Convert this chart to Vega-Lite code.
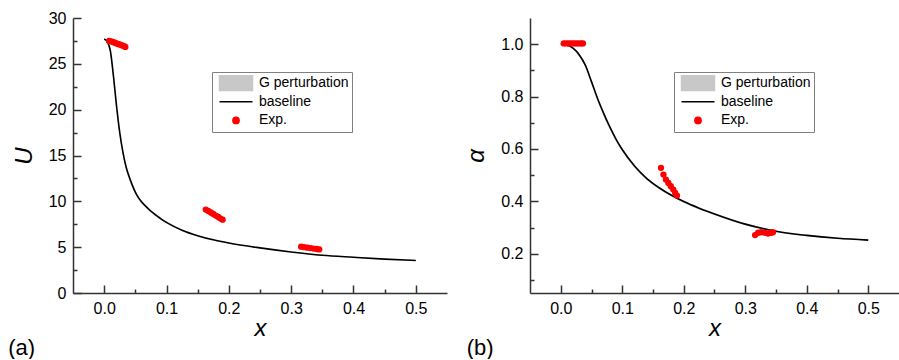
{
  "$schema": "https://vega.github.io/schema/vega-lite/v6.json",
  "background": "white",
  "padding": {"left": 8, "top": 10, "right": 0, "bottom": 0},
  "datasets": {
    "a_curve": [
      {"x": 0, "U": 27.7, "lo": 27.7},
      {"x": 0.005, "U": 27.4, "lo": 27.3},
      {"x": 0.01, "U": 26.4, "lo": 26.1},
      {"x": 0.015, "U": 23.6, "lo": 23.1},
      {"x": 0.02, "U": 20.3, "lo": 19.8},
      {"x": 0.025, "U": 17.5, "lo": 17.1},
      {"x": 0.03, "U": 15.4, "lo": 15.0},
      {"x": 0.035, "U": 13.8, "lo": 13.45},
      {"x": 0.04, "U": 12.7, "lo": 12.35},
      {"x": 0.045, "U": 11.8, "lo": 11.5},
      {"x": 0.05, "U": 11.0, "lo": 10.75},
      {"x": 0.055, "U": 10.4, "lo": 10.17},
      {"x": 0.06, "U": 9.95, "lo": 9.74},
      {"x": 0.07, "U": 9.25, "lo": 9.06},
      {"x": 0.08, "U": 8.65, "lo": 8.48},
      {"x": 0.09, "U": 8.15, "lo": 8.0},
      {"x": 0.1, "U": 7.7, "lo": 7.57},
      {"x": 0.125, "U": 6.85, "lo": 6.75},
      {"x": 0.15, "U": 6.25, "lo": 6.17},
      {"x": 0.175, "U": 5.8, "lo": 5.73},
      {"x": 0.2, "U": 5.45, "lo": 5.39},
      {"x": 0.25, "U": 4.92, "lo": 4.87},
      {"x": 0.3, "U": 4.48, "lo": 4.44},
      {"x": 0.35, "U": 4.12, "lo": 4.09},
      {"x": 0.4, "U": 3.9, "lo": 3.87},
      {"x": 0.45, "U": 3.7, "lo": 3.68},
      {"x": 0.5, "U": 3.55, "lo": 3.53}
    ],
    "a_exp": [
      {"x": 0.008, "U": 27.5}, {"x": 0.011, "U": 27.45}, {"x": 0.014, "U": 27.38},
      {"x": 0.017, "U": 27.3}, {"x": 0.02, "U": 27.22}, {"x": 0.023, "U": 27.15},
      {"x": 0.026, "U": 27.08}, {"x": 0.029, "U": 27.0}, {"x": 0.032, "U": 26.92},
      {"x": 0.034, "U": 26.85},
      {"x": 0.163, "U": 9.1}, {"x": 0.167, "U": 8.95}, {"x": 0.171, "U": 8.78},
      {"x": 0.175, "U": 8.62}, {"x": 0.179, "U": 8.45}, {"x": 0.183, "U": 8.3},
      {"x": 0.186, "U": 8.15}, {"x": 0.19, "U": 8.0},
      {"x": 0.316, "U": 5.05}, {"x": 0.321, "U": 5.0}, {"x": 0.326, "U": 4.95},
      {"x": 0.331, "U": 4.9}, {"x": 0.336, "U": 4.85}, {"x": 0.341, "U": 4.8},
      {"x": 0.345, "U": 4.75}
    ],
    "b_curve": [
      {"x": 0, "a": 1.0, "lo": 1.0, "hi": 1.0},
      {"x": 0.01, "a": 0.997, "lo": 0.995, "hi": 0.998},
      {"x": 0.02, "a": 0.985, "lo": 0.98, "hi": 0.987},
      {"x": 0.03, "a": 0.96, "lo": 0.952, "hi": 0.963},
      {"x": 0.04, "a": 0.92, "lo": 0.91, "hi": 0.924},
      {"x": 0.05, "a": 0.857, "lo": 0.846, "hi": 0.861},
      {"x": 0.06, "a": 0.792, "lo": 0.781, "hi": 0.796},
      {"x": 0.07, "a": 0.735, "lo": 0.724, "hi": 0.739},
      {"x": 0.08, "a": 0.683, "lo": 0.673, "hi": 0.687},
      {"x": 0.09, "a": 0.637, "lo": 0.628, "hi": 0.641},
      {"x": 0.1, "a": 0.598, "lo": 0.59, "hi": 0.601},
      {"x": 0.12, "a": 0.535, "lo": 0.528, "hi": 0.538},
      {"x": 0.14, "a": 0.487, "lo": 0.481, "hi": 0.49},
      {"x": 0.16, "a": 0.452, "lo": 0.446, "hi": 0.455},
      {"x": 0.18, "a": 0.423, "lo": 0.418, "hi": 0.426},
      {"x": 0.2, "a": 0.399, "lo": 0.394, "hi": 0.402},
      {"x": 0.225, "a": 0.374, "lo": 0.369, "hi": 0.377},
      {"x": 0.25, "a": 0.352, "lo": 0.348, "hi": 0.355},
      {"x": 0.3, "a": 0.313, "lo": 0.309, "hi": 0.316},
      {"x": 0.35, "a": 0.286, "lo": 0.283, "hi": 0.289},
      {"x": 0.4, "a": 0.27, "lo": 0.267, "hi": 0.273},
      {"x": 0.45, "a": 0.259, "lo": 0.257, "hi": 0.262},
      {"x": 0.5, "a": 0.252, "lo": 0.25, "hi": 0.254}
    ],
    "b_exp": [
      {"x": 0.005, "a": 1.003}, {"x": 0.009, "a": 1.003}, {"x": 0.013, "a": 1.003},
      {"x": 0.017, "a": 1.003}, {"x": 0.021, "a": 1.003}, {"x": 0.025, "a": 1.003},
      {"x": 0.029, "a": 1.003}, {"x": 0.033, "a": 1.003}, {"x": 0.036, "a": 1.003},
      {"x": 0.163, "a": 0.528}, {"x": 0.167, "a": 0.502}, {"x": 0.171, "a": 0.483},
      {"x": 0.175, "a": 0.47}, {"x": 0.179, "a": 0.458}, {"x": 0.183, "a": 0.445},
      {"x": 0.186, "a": 0.432}, {"x": 0.189, "a": 0.422},
      {"x": 0.316, "a": 0.271}, {"x": 0.321, "a": 0.28}, {"x": 0.326, "a": 0.282},
      {"x": 0.332, "a": 0.28}, {"x": 0.337, "a": 0.277}, {"x": 0.342, "a": 0.28},
      {"x": 0.345, "a": 0.282}
    ]
  },
  "hconcat": [
    {
      "width": 374,
      "height": 275,
      "title": {"text": "(a)", "orient": "bottom", "anchor": "start", "frame": "bounds", "fontSize": 22, "font": "Liberation Sans", "fontWeight": "normal", "color": "#000000", "offset": -2, "dx": -4},
      "resolve": {"axis": {"x": "independent", "y": "independent"}},
      "layer": [
        {
          "data": {"name": "a_curve"},
          "mark": {"type": "area", "opacity": 1, "interpolate": "monotone"},
          "encoding": {
            "x": {"field": "x", "type": "quantitative", "scale": {"domain": [-0.05, 0.55], "nice": false, "zero": false},
              "axis": {"orient": "bottom", "title": "x", "values": [0, 0.1, 0.2, 0.3, 0.4, 0.5], "format": ".1f",
                "tickSize": -8, "labelPadding": 15, "labelOverlap": false, "labelFlush": false, "titlePadding": 0}},
            "y": {"field": "lo", "type": "quantitative", "scale": {"domain": [0, 30], "nice": false},
              "axis": {"orient": "left", "title": "U", "values": [0, 5, 10, 15, 20, 25, 30], "format": "d",
                "tickSize": -8, "labelPadding": 15, "labelOverlap": false, "labelFlush": false, "titlePadding": 12}},
            "y2": {"field": "U"},
            "color": {"datum": "G perturbation", "type": "nominal",
              "scale": {"domain": ["G perturbation", "baseline", "Exp."], "range": ["#c8c8c8", "#000000", "#ff0000"]},
              "legend": {"orient": "none", "legendX": 139, "legendY": 54, "title": null,
                "encode": {"symbols": {"update": {
                  "shape": {"signal": "datum.value === 'baseline' ? 'M-1,0H1' : datum.value === 'Exp.' ? 'M-0.19,0A0.19,0.19,0,1,1,0.19,0A0.19,0.19,0,1,1,-0.19,0Z' : 'M-1,-0.45H1V0.45H-1Z'"},
                  "fill": {"signal": "datum.value === 'baseline' ? 'transparent' : datum.value === 'Exp.' ? '#ff0000' : '#c8c8c8'"},
                  "stroke": {"signal": "datum.value === 'baseline' ? '#000000' : 'transparent'"},
                  "strokeWidth": {"value": 1.5},
                  "opacity": {"value": 1}}}}}}
          }
        },
        {
          "data": {"name": "a_curve"},
          "mark": {"type": "line", "strokeWidth": 1.6, "interpolate": "monotone"},
          "encoding": {
            "x": {"field": "x", "type": "quantitative",
              "axis": {"orient": "bottom", "title": null, "values": [0.05, 0.15, 0.25, 0.35, 0.45], "labels": false, "domain": false, "tickSize": -4}},
            "y": {"field": "U", "type": "quantitative",
              "axis": {"orient": "left", "title": null, "values": [2.5, 7.5, 12.5, 17.5, 22.5, 27.5], "labels": false, "domain": false, "tickSize": -4}},
            "color": {"datum": "baseline", "type": "nominal"}
          }
        },
        {
          "data": {"name": "a_exp"},
          "mark": {"type": "circle", "size": 40, "opacity": 1},
          "encoding": {
            "x": {"field": "x", "type": "quantitative", "axis": null},
            "y": {"field": "U", "type": "quantitative", "axis": null},
            "color": {"datum": "Exp.", "type": "nominal"}
          }
        }
      ]
    },
    {
      "width": 369,
      "height": 275,
      "title": {"text": "(b)", "orient": "bottom", "anchor": "start", "frame": "bounds", "fontSize": 22, "font": "Liberation Sans", "fontWeight": "normal", "color": "#000000", "offset": -2, "dx": 2},
      "resolve": {"axis": {"x": "independent", "y": "independent"}},
      "layer": [
        {
          "data": {"name": "b_curve"},
          "mark": {"type": "area", "opacity": 1, "interpolate": "monotone"},
          "encoding": {
            "x": {"field": "x", "type": "quantitative", "scale": {"domain": [-0.05, 0.55], "nice": false, "zero": false},
              "axis": {"orient": "bottom", "title": "x", "values": [0, 0.1, 0.2, 0.3, 0.4, 0.5], "format": ".1f",
                "tickSize": -8, "labelPadding": 15, "labelOverlap": false, "labelFlush": false, "titlePadding": 0}},
            "y": {"field": "lo", "type": "quantitative", "scale": {"domain": [0.05, 1.1], "nice": false, "zero": false},
              "axis": {"orient": "left", "title": "α", "values": [0.2, 0.4, 0.6, 0.8, 1.0], "format": ".1f",
                "tickSize": -8, "labelPadding": 15, "labelOverlap": false, "labelFlush": false, "titlePadding": 12}},
            "y2": {"field": "hi"},
            "color": {"datum": "G perturbation", "type": "nominal",
              "scale": {"domain": ["G perturbation", "baseline", "Exp."], "range": ["#c8c8c8", "#000000", "#ff0000"]},
              "legend": {"orient": "none", "legendX": 144, "legendY": 54, "title": null,
                "encode": {"symbols": {"update": {
                  "shape": {"signal": "datum.value === 'baseline' ? 'M-1,0H1' : datum.value === 'Exp.' ? 'M-0.19,0A0.19,0.19,0,1,1,0.19,0A0.19,0.19,0,1,1,-0.19,0Z' : 'M-1,-0.45H1V0.45H-1Z'"},
                  "fill": {"signal": "datum.value === 'baseline' ? 'transparent' : datum.value === 'Exp.' ? '#ff0000' : '#c8c8c8'"},
                  "stroke": {"signal": "datum.value === 'baseline' ? '#000000' : 'transparent'"},
                  "strokeWidth": {"value": 1.5},
                  "opacity": {"value": 1}}}}}}
          }
        },
        {
          "data": {"name": "b_curve"},
          "mark": {"type": "line", "strokeWidth": 1.6, "interpolate": "monotone"},
          "encoding": {
            "x": {"field": "x", "type": "quantitative",
              "axis": {"orient": "bottom", "title": null, "values": [0.05, 0.15, 0.25, 0.35, 0.45], "labels": false, "domain": false, "tickSize": -4}},
            "y": {"field": "a", "type": "quantitative",
              "axis": {"orient": "left", "title": null, "values": [0.1, 0.3, 0.5, 0.7, 0.9], "labels": false, "domain": false, "tickSize": -4}},
            "color": {"datum": "baseline", "type": "nominal"}
          }
        },
        {
          "data": {"name": "b_exp"},
          "mark": {"type": "circle", "size": 40, "opacity": 1},
          "encoding": {
            "x": {"field": "x", "type": "quantitative", "axis": null},
            "y": {"field": "a", "type": "quantitative", "axis": null},
            "color": {"datum": "Exp.", "type": "nominal"}
          }
        }
      ]
    }
  ],
  "spacing": 17,
  "resolve": {"scale": {"color": "independent", "x": "independent", "y": "independent"}, "legend": {"color": "independent"}},
  "config": {
    "view": {"stroke": null},
    "axis": {
      "grid": false,
      "domainColor": "#333333", "domainWidth": 1.5,
      "tickColor": "#333333", "tickWidth": 1.5,
      "labelFont": "Liberation Sans", "labelFontSize": 16, "labelColor": "#000000",
      "titleFont": "Liberation Sans", "titleFontSize": 24, "titleFontStyle": "italic", "titleFontWeight": "normal", "titleColor": "#000000"
    },
    "legend": {
      "symbolSize": 1089,
      "clipHeight": 16.5,
      "rowPadding": 1.6,
      "padding": 3,
      "symbolOffset": 3.5,
      "labelOffset": 5.5,
      "labelFont": "Liberation Sans",
      "labelFontSize": 14,
      "labelColor": "#000000",
      "strokeColor": "#808080",
      "fillColor": "#ffffff",
      "symbolStrokeWidth": 1.5,
      "symbolOpacity": 1,
      "symbolType": "M-1,-0.45H1V0.45H-1Z"
    }
  }
}
